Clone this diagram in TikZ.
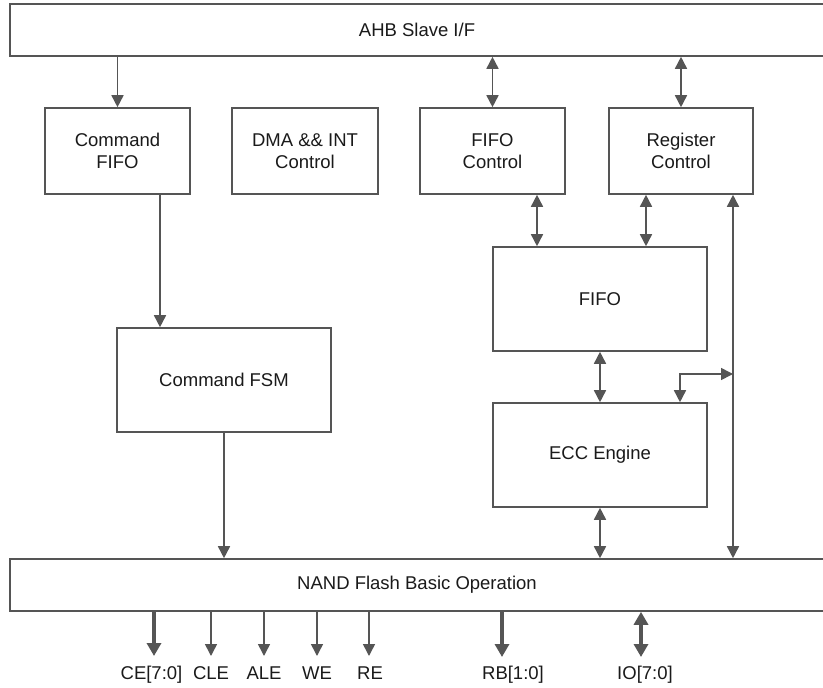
\documentclass[tikz,border=0pt]{standalone}
\usepackage{fontspec}
\setmainfont{Liberation Sans}
\usetikzlibrary{arrows.meta,calc}
\definecolor{ln}{HTML}{555555}
\definecolor{tx}{HTML}{1A1A1A}
\begin{document}
\begin{tikzpicture}[x=1pt,y=-1pt,
  box/.style={draw=ln,line width=1.6pt,fill=none,text=tx,inner sep=0pt,align=center,
    font=\fontsize{18.5}{22}\selectfont},
  arr/.style={draw=ln,line width=1.6pt,-{Triangle[length=12pt,width=12pt]}},
  darr/.style={draw=ln,line width=1.6pt,{Triangle[length=12pt,width=12pt]}-{Triangle[length=12pt,width=12pt]}},
  tarr/.style={draw=ln,line width=3.5pt,-{Triangle[length=13pt,width=14pt]}},
  tdarr/.style={draw=ln,line width=3.5pt,{Triangle[length=13pt,width=14pt]}-{Triangle[length=13pt,width=14pt]}},
  lbl/.style={text=tx,inner sep=0pt,anchor=base,font=\fontsize{18.5}{22}\selectfont}]
\useasboundingbox (0,0) rectangle (823,688);
\fill[white] (0,0) rectangle (823,688);

% main blocks
\node[box,minimum width=814pt,minimum height=52pt] (ahb) at (417,30) {AHB Slave I/F};
\node[box,minimum width=814pt,minimum height=52pt] (nand) at (417,585) {NAND Flash Basic Operation};
\node[box,minimum width=145pt,minimum height=86pt] (cmdfifo) at (117.5,151) {Command\\FIFO};
\node[box,minimum width=146pt,minimum height=86pt] (dma) at (305,151) {DMA \&\& INT\\Control};
\node[box,minimum width=145pt,minimum height=86pt] (fifoctl) at (492.5,151) {FIFO\\Control};
\node[box,minimum width=144pt,minimum height=86pt] (regctl) at (681,151) {Register\\Control};
\node[box,minimum width=214pt,minimum height=104pt] (fifo) at (600,299) {FIFO};
\node[box,minimum width=214pt,minimum height=104pt] (ecc) at (600,455) {ECC Engine};
\node[box,minimum width=214pt,minimum height=104pt] (fsm) at (224,380) {Command FSM};

% helper coordinates
\coordinate (xcf) at (160,0);
\coordinate (xa) at (537,0);
\coordinate (xb) at (646,0);
\coordinate (xbus) at (733,0);
\coordinate (br) at (733,374);
\coordinate (xbr) at (680,0);

% connectors
\draw[arr] (ahb.south -| cmdfifo.north) -- (cmdfifo.north);
\draw[darr] (ahb.south -| fifoctl.north) -- (fifoctl.north);
\draw[darr] (ahb.south -| regctl.north) -- (regctl.north);
\draw[arr] (cmdfifo.south -| xcf) -- (fsm.north -| xcf);
\draw[arr] (fsm.south) -- (nand.north -| fsm.south);
\draw[darr] (fifoctl.south -| xa) -- (fifo.north -| xa);
\draw[darr] (regctl.south -| xb) -- (fifo.north -| xb);
\draw[darr] (regctl.south -| xbus) -- (nand.north -| xbus);
\draw[darr] (ecc.north -| xbr) |- (br);
\draw[darr] (fifo.south) -- (ecc.north);
\draw[darr] (ecc.south) -- (nand.north -| ecc.south);

% output pins
\coordinate (ce) at (154,656);
\coordinate (cle) at (211,656);
\coordinate (ale) at (264,656);
\coordinate (we) at (317,656);
\coordinate (re) at (369,656);
\coordinate (rb) at (502,657);
\coordinate (io) at (641,657);
\draw[tarr] (nand.south -| ce) -- (ce);
\draw[arr] (nand.south -| cle) -- (cle);
\draw[arr] (nand.south -| ale) -- (ale);
\draw[arr] (nand.south -| we) -- (we);
\draw[arr] (nand.south -| re) -- (re);
\draw[tarr] (nand.south -| rb) -- (rb);
\draw[tdarr] (nand.south -| io) -- (io);

\node[lbl] (lce) at (151.5,679) {CE[7:0]};
\node[lbl] (lcle) at (211,679) {CLE};
\node[lbl] (lale) at (264,679) {ALE};
\node[lbl] (lwe) at (317,679) {WE};
\node[lbl] (lre) at (370,679) {RE};
\node[lbl] (lrb) at (513,679) {RB[1:0]};
\node[lbl] (lio) at (645,679) {IO[7:0]};
\end{tikzpicture}
\end{document}
